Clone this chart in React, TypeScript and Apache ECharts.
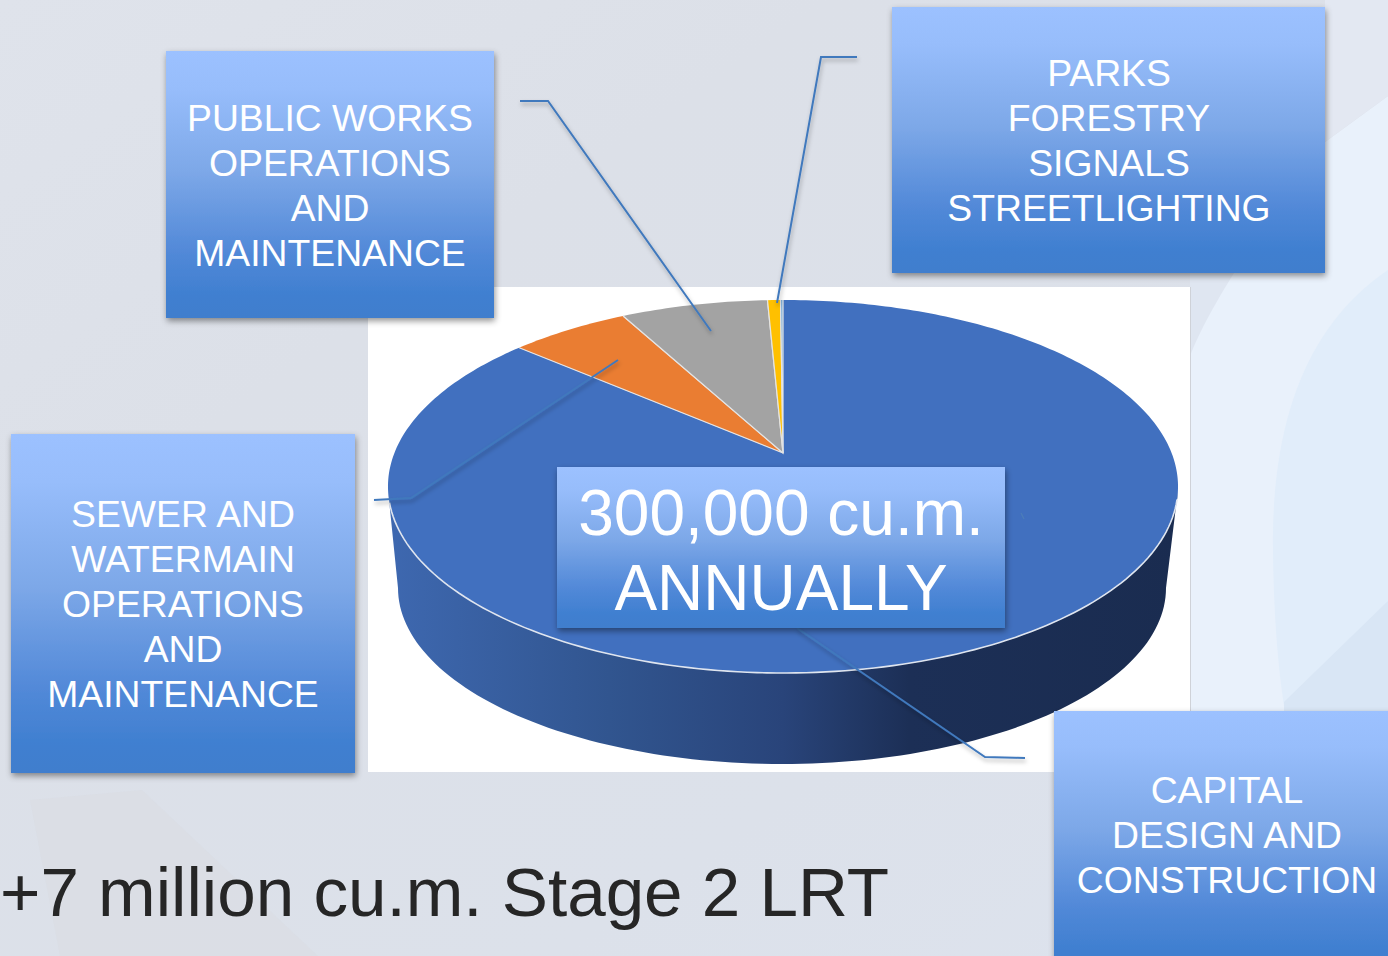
import React, { useEffect, useRef } from "react";
import * as echarts from "echarts";

// Shares of the annual volume, clockwise from 12 o'clock (percent)
const sliceNames = [
  "Capital Design and Construction",
  "Sewer and Watermain Operations and Maintenance",
  "Public Works Operations and Maintenance",
  "Parks Forestry Signals Streetlighting",
  "Other",
];
const sliceValues = [86.3, 5.8, 7.15, 0.63, 0.12];
const sliceColors = ["#4170bf", "#ea7d32", "#a3a3a3", "#ffc000", "#6fa6da"];

const publicLines = ["PUBLIC WORKS", "OPERATIONS", "AND", "MAINTENANCE"];
const parksLines = ["PARKS", "FORESTRY", "SIGNALS", "STREETLIGHTING"];
const sewerLines = ["SEWER AND", "WATERMAIN", "OPERATIONS", "AND", "MAINTENANCE"];
const capitalLines = ["CAPITAL", "DESIGN AND", "CONSTRUCTION"];
const centerLines = ["300,000 cu.m.", "ANNUALLY"];
const footerText = "+7 million cu.m. Stage 2 LRT";

const FONT = '"Liberation Sans", Arial, sans-serif';

// Perspective disc: ellipse on screen, with the true centre projected above the ellipse centre
const CX = 783;
const CY = 486.5;
const RX = 395;
const RY = 186.5;
const APEX_Y = 453;
const B = CY - APEX_Y;
const C = B / RY;
const K = 388.6;

function project(deg: number): number[] {
  const t = (deg * Math.PI) / 180;
  const x = Math.sin(t);
  const y = Math.cos(t);
  const d = C * y + 1;
  return [CX + (K * x) / d, CY - (RY * y + B) / d];
}

function arcPoints(from: number, to: number): number[][] {
  const pts: number[][] = [];
  const steps = Math.max(2, Math.ceil(Math.abs(to - from)));
  for (let i = 0; i <= steps; i++) pts.push(project(from + ((to - from) * i) / steps));
  return pts;
}

function ellipseArc(cx: number, cy: number, rx: number, ry: number, from: number, to: number): number[][] {
  const pts: number[][] = [];
  const steps = 120;
  for (let i = 0; i <= steps; i++) {
    const t = ((from + ((to - from) * i) / steps) * Math.PI) / 180;
    pts.push([cx + rx * Math.cos(t), cy + ry * Math.sin(t)]);
  }
  return pts;
}

function quad(p0: number[], p1: number[], p2: number[]): number[][] {
  const pts: number[][] = [];
  for (let i = 0; i <= 30; i++) {
    const t = i / 30;
    const u = 1 - t;
    pts.push([
      u * u * p0[0] + 2 * u * t * p1[0] + t * t * p2[0],
      u * u * p0[1] + 2 * u * t * p1[1] + t * t * p2[1],
    ]);
  }
  return pts;
}

const total = sliceValues.reduce((a, b) => a + b, 0);

function linear(x2: number, y2: number, stops: [number, string][]) {
  return {
    type: "linear",
    x: 0,
    y: 0,
    x2,
    y2,
    colorStops: stops.map(([offset, color]) => ({ offset, color })),
  };
}

function boxFill() {
  return linear(0, 1, [
    [0, "#9cc1ff"],
    [0.14, "#97bdfb"],
    [0.45, "#7da8e8"],
    [0.75, "#5289d8"],
    [0.92, "#3f7fd0"],
    [1, "#3f7ecd"],
  ]);
}

function box(x: number, y: number, w: number, h: number) {
  return {
    type: "rect",
    shape: { x, y, width: w, height: h },
    style: {
      fill: boxFill(),
      shadowBlur: 6,
      shadowOffsetX: 1,
      shadowOffsetY: 3,
      shadowColor: "rgba(0,0,0,0.42)",
    },
  };
}

function label(lines: string[], x: number, y: number, size: number, lineHeight: number) {
  return {
    type: "text",
    x,
    y,
    style: {
      text: lines.join("\n"),
      fill: "#ffffff",
      font: `${size}px ${FONT}`,
      lineHeight,
      align: "center",
      verticalAlign: "middle",
    },
  };
}

function leader(points: number[][]) {
  return {
    type: "polyline",
    shape: { points },
    style: {
      stroke: "#4179bd",
      lineWidth: 2,
      fill: "none",
      shadowBlur: 4,
      shadowOffsetX: 1,
      shadowOffsetY: 3,
      shadowColor: "rgba(0,0,0,0.3)",
    },
  };
}

function backgroundItem() {
  const poly = (points: number[][], fill: any) => ({
    type: "polygon",
    shape: { points },
    style: { fill },
  });
  const wall = [
    ...ellipseArc(CX, CY, RX, RY, 180, 0),
    [1178, 490],
    ...ellipseArc(782, 588, 384, 176, 0, 180),
    [388, 490],
  ];
  return {
    type: "group",
    children: [
      {
        type: "rect",
        shape: { x: 0, y: 0, width: 1388, height: 956 },
        style: {
          fill: linear(1, 1, [
            [0, "#dfe3eb"],
            [0.3, "#dce0e8"],
            [0.7, "#dce1ea"],
            [1, "#dde3ee"],
          ]),
        },
      },
      poly([[142, 790], [318, 956], [60, 956], [30, 800]], "rgba(214,216,220,0.25)"),
      // right-hand pale curved bands
      poly([[1190, 200], [1325, 100], [1325, 300], [1190, 400]], "#dfe6f1"),
      poly(
        [
          ...quad([1190, 356], [1215, 290], [1325, 142]),
          [1388, 96],
          [1388, 956],
          [1190, 956],
        ],
        "#e9f1fb"
      ),
      poly(
        [
          ...quad([1388, 270], [1270, 350], [1273, 551]),
          ...quad([1273, 551], [1274, 640], [1284, 706]),
          [1388, 706],
        ],
        "#e1edfa"
      ),
      poly([[1284, 702], [1388, 601], [1388, 720], [1284, 720]], "#d9e6f5"),
      poly([[1325, 0], [1388, 0], [1388, 96], [1325, 142]], "#e3e8f2"),
      // chart plate
      {
        type: "rect",
        shape: { x: 368, y: 287, width: 822, height: 485 },
        style: { fill: "#ffffff" },
      },
      {
        type: "line",
        shape: { x1: 1190.5, y1: 287, x2: 1190.5, y2: 772 },
        style: { stroke: "#cfd2d8", lineWidth: 1 },
      },
      // pie side wall
      poly(
        wall,
        linear(1, 0, [
          [0, "#3e68b0"],
          [0.28, "#31558f"],
          [0.5, "#29447a"],
          [0.66, "#1c2f56"],
          [1, "#1a2c50"],
        ])
      ),
    ],
  };
}

function sliceItem(params: any, api: any) {
  const i = params.dataIndex;
  const value = api.value(1);
  let before = 0;
  for (let k = 0; k < i; k++) before += sliceValues[k];
  const from = (before / total) * 360;
  const to = ((before + value) / total) * 360;
  const apex = [CX, APEX_Y];
  const arc = arcPoints(from, to);
  const children: any[] = [
    {
      type: "polygon",
      shape: { points: [apex, ...arc] },
      style: { fill: sliceColors[i] },
    },
  ];
  if (i === 0) {
    children.push({
      type: "polyline",
      shape: { points: ellipseArc(CX, CY, RX, RY, 175, 4) },
      style: { stroke: "#dfe5ef", lineWidth: 1.6, fill: "none" },
    });
  } else {
    children.push({
      type: "polyline",
      shape: { points: [arc[0], apex, arc[arc.length - 1]] },
      style: { stroke: "#e4e4e4", lineWidth: 1.2, fill: "none" },
    });
  }
  return { type: "group", children };
}

function overlayItem() {
  return {
    type: "group",
    children: [
      leader([[520, 101], [548, 101], [711, 331]]),
      leader([[857, 57], [821, 57], [777, 303]]),
      leader([[374, 500], [411, 498], [618, 360]]),
      leader([[1025, 758], [985, 757], [797, 628]]),
      {
        type: "line",
        shape: { x1: 1021, y1: 513, x2: 1024, y2: 519 },
        style: { stroke: "#4d7db9", lineWidth: 1.2 },
      },
      box(166, 51, 328, 267),
      label(publicLines, 330, 185, 37.3, 45),
      box(892, 7, 433, 266),
      label(parksLines, 1109, 140.5, 37.3, 45),
      box(11, 434, 344, 339),
      label(sewerLines, 183, 604, 37.3, 44.8),
      box(1054, 711, 340, 260),
      label(capitalLines, 1227, 834.5, 37.3, 45),
      box(557, 467, 448, 161),
      label(centerLines, 781, 550, 64, 75),
      {
        type: "text",
        x: 0,
        y: 892,
        style: {
          text: footerText,
          fill: "#262626",
          font: `69.2px ${FONT}`,
          align: "left",
          verticalAlign: "middle",
        },
      },
    ],
  };
}

export default function App() {
  const ref = useRef<HTMLDivElement>(null);
  useEffect(() => {
    const chart = echarts.init(ref.current!, undefined, { renderer: "svg" });
    chart.setOption({
      animation: false,
      series: [
        {
          type: "custom",
          coordinateSystem: "none",
          z: 1,
          silent: true,
          data: [[0]],
          renderItem: () => backgroundItem(),
        },
        {
          type: "custom",
          coordinateSystem: "none",
          z: 2,
          silent: true,
          data: sliceValues.map((v, i) => ({ name: sliceNames[i], value: [i, v] })),
          dimensions: ["index", "value"],
          renderItem: sliceItem,
        },
        {
          type: "custom",
          coordinateSystem: "none",
          z: 3,
          silent: true,
          data: [[0]],
          renderItem: () => overlayItem(),
        },
      ],
    });
    return () => chart.dispose();
  }, []);
  return (
    <div
      ref={ref}
      style={{ position: "absolute", left: 0, top: 0, width: 1388, height: 956, overflow: "hidden" }}
    />
  );
}
